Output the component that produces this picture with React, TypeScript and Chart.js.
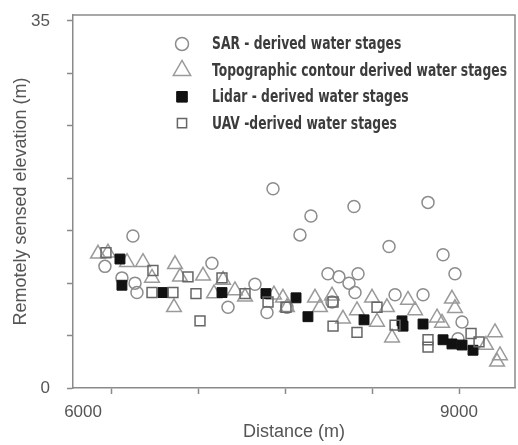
import React, { useEffect, useRef } from "react";
import { Chart, registerables } from "chart.js";

Chart.register(...registerables);

// ---- Data ----
const sarX = [5939, 6181, 6086, 6199, 6216, 6864, 7003, 7236, 7340, 7392, 7625, 7513, 7720, 8092, 8732, 8395, 8862, 8965, 7867, 7962, 8127, 8049, 8101, 8447, 8689, 7902, 9026, 8991];
const sarY = [11.6, 14.5, 10.5, 10.0, 9.1, 11.9, 7.7, 9.9, 7.2, 19.0, 14.6, 7.7, 16.4, 17.3, 17.7, 13.5, 12.7, 10.9, 10.9, 10.6, 10.9, 10.0, 9.1, 8.9, 8.9, 8.2, 6.3, 4.7];

const topoX = [5879, 5965, 6130, 6268, 6346, 6545, 6588, 6536, 6787, 6882, 6960, 7063, 7150, 7400, 7513, 7478, 7755, 7902, 7798, 7997, 8118, 8248, 8377, 8291, 8421, 8559, 8620, 8810, 8939, 8965, 8853, 9311, 9233, 9354, 9329];
const topoY = [12.8, 12.9, 12.0, 12.0, 10.5, 11.8, 10.6, 7.7, 10.7, 9.0, 10.3, 9.3, 8.7, 8.9, 7.7, 8.6, 8.6, 8.8, 7.7, 6.6, 7.4, 8.6, 7.7, 6.3, 4.8, 8.4, 7.4, 6.7, 8.5, 7.6, 6.2, 5.3, 4.1, 3.1, 2.5];

const lidarX = [6069, 6086, 6441, 6951, 7331, 7591, 7694, 8179, 8507, 8516, 8689, 8862, 8939, 9026, 9121];
const lidarY = [12.3, 9.8, 9.1, 9.1, 9.0, 8.6, 6.8, 6.5, 6.4, 5.9, 6.1, 4.6, 4.2, 4.1, 3.6];

const uavX = [5948, 6354, 6346, 6527, 6657, 6726, 6761, 6951, 7150, 7349, 7504, 7911, 7911, 8118, 8291, 8447, 8732, 8732, 9104, 9173];
const uavY = [12.9, 11.2, 9.1, 9.1, 10.6, 9.0, 6.4, 10.5, 9.0, 8.2, 7.7, 8.2, 5.9, 5.3, 7.7, 6.0, 4.6, 3.9, 5.2, 4.4];

const seriesNames = [
  "SAR - derived water stages",
  "Topographic contour derived water stages",
  "Lidar - derived water stages",
  "UAV -derived water stages",
];

const xMin = 5663;
const xMax = 9484;
const yMin = 0;
const yMax = 35.57;
const xTickValues = [5750, 6000, 6750, 7500, 8250, 9000];
const xTickLabels = ["6000", "", "", "", "", "9000"];
const yTickValues = [0, 5, 10, 15, 20, 25, 30, 35];
const yTickLabels = ["0", "", "", "", "", "", "", "35"];

const xTitle = "Distance (m)";
const yTitle = "Remotely sensed elevation (m)";

const toPoints = (xs: number[], ys: number[]) => xs.map((x, i) => ({ x, y: ys[i] }));

function drawMarker(ctx: CanvasRenderingContext2D, style: string, x: number, y: number, r: number, stroke: string, fill: string, lw: number) {
  ctx.save();
  ctx.lineWidth = lw;
  ctx.strokeStyle = stroke;
  ctx.fillStyle = fill;
  ctx.beginPath();
  if (style === "circle") {
    ctx.arc(x, y, r, 0, Math.PI * 2);
  } else if (style === "triangle") {
    const h = r * 1.5;
    const w = r * Math.sqrt(3);
    ctx.moveTo(x, y - r);
    ctx.lineTo(x + w / 2, y - r + h);
    ctx.lineTo(x - w / 2, y - r + h);
    ctx.closePath();
  } else {
    const s = r * Math.SQRT1_2;
    ctx.rect(x - s, y - s, 2 * s, 2 * s);
  }
  ctx.fill();
  ctx.stroke();
  ctx.restore();
}

const boxPlugin = {
  id: "boxPlugin",
  afterDraw(chart: any) {
    const { ctx, chartArea } = chart;
    ctx.save();
    ctx.strokeStyle = "#8a8a8a";
    ctx.lineWidth = 1.5;
    ctx.beginPath();
    ctx.moveTo(chartArea.left, chartArea.top);
    ctx.lineTo(chartArea.right, chartArea.top);
    ctx.lineTo(chartArea.right, chartArea.bottom);
    ctx.stroke();
    ctx.restore();
  },
};

const innerLegend = {
  id: "innerLegend",
  afterDraw(chart: any) {
    const ctx: CanvasRenderingContext2D = chart.ctx;
    ctx.save();
    ctx.font = "bold 17px 'DejaVu Sans', sans-serif";
    ctx.textBaseline = "middle";
    ctx.textAlign = "left";
    const longest = Math.max(...chart.data.datasets.map((d: any) => ctx.measureText(d.label).width));
    const squeeze = 295 / longest;
    chart.data.datasets.forEach((ds: any, i: number) => {
      const y = 44 + i * 26.4;
      drawMarker(ctx, ds.pointStyle, 182, y, ds.legendRadius, ds.pointBorderColor, ds.pointBackgroundColor, ds.pointBorderWidth);
      ctx.fillStyle = "#3c3c3c";
      const w = ctx.measureText(ds.label).width;
      ctx.fillText(ds.label, 212, y + 1, w * squeeze);
    });
    ctx.restore();
  },
};

export default function App() {
  const ref = useRef<HTMLCanvasElement | null>(null);

  useEffect(() => {
    document.body.style.margin = "0";
    const canvas = ref.current;
    if (!canvas) return;
    const axisFont = { family: "'Liberation Sans', Arial, sans-serif", size: 17 };
    const titleFont = { family: "'Liberation Sans', Arial, sans-serif", size: 18 };
    const chart = new Chart(canvas, {
      type: "scatter",
      data: {
        datasets: [
          {
            label: seriesNames[0],
            data: toPoints(sarX, sarY),
            pointStyle: "circle",
            pointRadius: 6,
            legendRadius: 6.5,
            pointBorderColor: "#8c8c8c",
            pointBackgroundColor: "rgba(0,0,0,0)",
            pointBorderWidth: 1.5,
            order: 4,
          } as any,
          {
            label: seriesNames[1],
            data: toPoints(topoX, topoY),
            pointStyle: "triangle",
            pointRadius: 8.5,
            legendRadius: 10,
            pointBorderColor: "#9a9a9a",
            pointBackgroundColor: "rgba(0,0,0,0)",
            pointBorderWidth: 1.5,
            order: 3,
          } as any,
          {
            label: seriesNames[2],
            data: toPoints(lidarX, lidarY),
            pointStyle: "rect",
            pointRadius: 7,
            legendRadius: 7.5,
            pointBorderColor: "#111111",
            pointBackgroundColor: "#111111",
            pointBorderWidth: 1,
            order: 2,
          } as any,
          {
            label: seriesNames[3],
            data: toPoints(uavX, uavY),
            pointStyle: "rect",
            pointRadius: 7,
            legendRadius: 6.5,
            pointBorderColor: "#666666",
            pointBackgroundColor: "rgba(0,0,0,0)",
            pointBorderWidth: 1.5,
            order: 1,
          } as any,
        ],
      },
      options: {
        responsive: false,
        animation: false,
        devicePixelRatio: 1,
        layout: { autoPadding: false, padding: { top: 15, right: 3, left: 0, bottom: 0 } },
        plugins: {
          legend: { display: false },
          tooltip: { enabled: false },
        },
        scales: {
          x: {
            type: "linear",
            min: xMin,
            max: xMax,
            afterBuildTicks: (scale: any) => {
              scale.ticks = xTickValues.map((v) => ({ value: v }));
            },
            afterFit: (scale: any) => {
              scale.height = 57;
              scale.paddingLeft = 0;
              scale.paddingRight = 0;
            },
            ticks: {
              autoSkip: false,
              maxRotation: 0,
              padding: 8,
              color: "#555",
              font: axisFont,
              callback: (_v: any, i: number) => xTickLabels[i],
            },
            grid: {
              drawOnChartArea: false,
              drawTicks: true,
              tickLength: 6,
              tickWidth: 1.5,
              tickColor: (c: any) => (c.index === 0 ? "rgba(0,0,0,0)" : "#8a8a8a"),
            },
            border: { display: true, color: "#8a8a8a", width: 1.5 },
            title: { display: true, text: xTitle, color: "#555", font: titleFont, padding: { top: 0, bottom: 2 } },
          },
          y: {
            type: "linear",
            min: yMin,
            max: yMax,
            afterBuildTicks: (scale: any) => {
              scale.ticks = yTickValues.map((v) => ({ value: v }));
            },
            afterFit: (scale: any) => {
              scale.width = 73;
              scale.paddingTop = 0;
              scale.paddingBottom = 0;
            },
            ticks: {
              autoSkip: false,
              padding: 17,
              color: "#555",
              font: axisFont,
              callback: (_v: any, i: number) => yTickLabels[i],
            },
            grid: {
              drawOnChartArea: false,
              drawTicks: true,
              tickLength: 6,
              tickWidth: 1.5,
              tickColor: "#8a8a8a",
            },
            border: { display: true, color: "#8a8a8a", width: 1.5 },
            title: { display: true, text: yTitle, color: "#555", font: titleFont, padding: { top: 10, bottom: 0 } },
          },
        },
      },
      plugins: [boxPlugin, innerLegend],
    });
    return () => chart.destroy();
  }, []);

  return (
    <div style={{ width: 518, height: 445 }}>
      <canvas ref={ref} width={518} height={445} style={{ display: "block" }} />
    </div>
  );
}
